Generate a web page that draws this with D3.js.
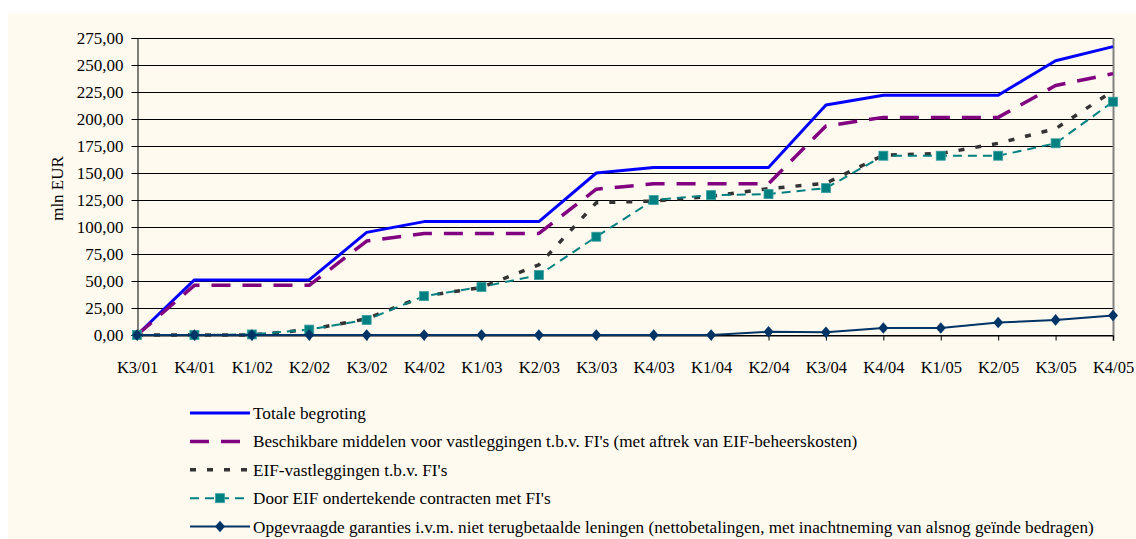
<!DOCTYPE html>
<html>
<head>
<meta charset="utf-8">
<script src="https://cdn.jsdelivr.net/npm/d3@7"></script>
<style>
  html, body { margin: 0; padding: 0; background: #ffffff; }
  svg { display: block; font-family: "Liberation Serif", "Times New Roman", serif; }
</style>
</head>
<body>
<svg id="chart" width="1136" height="539"></svg>
<script>
const categories = ['K3/01', 'K4/01', 'K1/02', 'K2/02', 'K3/02', 'K4/02', 'K1/03', 'K2/03', 'K3/03',
  'K4/03', 'K1/04', 'K2/04', 'K3/04', 'K4/04', 'K1/05', 'K2/05', 'K3/05', 'K4/05'];

const totaleBegroting = [0, 51, 51, 51, 95, 105, 105, 105, 150, 155, 155, 155, 213, 222, 222, 222, 254, 267];
const beschikbareMiddelen = [0, 46, 46, 46, 87, 94, 94, 94, 135, 140, 140, 140, 193.5, 201.5, 201.5, 201.5, 231, 242];
const eifVastleggingen = [0, 0, 0, 5, 15, 36, 44, 65, 122.5, 124, 128.5, 135.5, 140.5, 166.5, 168, 177.5, 191, 226];
const ondertekendeContracten = [0, 0, 0.5, 5, 14, 36, 44.5, 55.5, 91, 125, 129.5, 130.5, 136, 166, 166, 166, 177.5, 216];
const opgevraagdeGaranties = [0, 0, 0, 0, 0, 0, 0, 0, 0, 0, 0, 3, 2.5, 6.5, 6.5, 11.5, 14, 18];

const yTicks = [0, 25, 50, 75, 100, 125, 150, 175, 200, 225, 250, 275];

const seriesNames = [
  'Totale begroting',
  "Beschikbare middelen voor vastleggingen t.b.v. FI's (met aftrek van EIF-beheerskosten)",
  "EIF-vastleggingen t.b.v. FI's",
  "Door EIF ondertekende contracten met FI's",
  'Opgevraagde garanties i.v.m. niet terugbetaalde leningen (nettobetalingen, met inachtneming van alsnog geïnde bedragen)'
];

const series = [
  { name: seriesNames[0], values: totaleBegroting, color: '#0000ff', width: 3, dash: null, marker: null },
  { name: seriesNames[1], values: beschikbareMiddelen, color: '#800080', width: 3.5, dash: '19,12', marker: null },
  { name: seriesNames[2], values: eifVastleggingen, color: '#333333', width: 3.5, dash: '6,11', marker: null },
  { name: seriesNames[3], values: ondertekendeContracten, color: '#008080', width: 2, dash: '9,6', marker: 'square' },
  { name: seriesNames[4], values: opgevraagdeGaranties, color: '#003366', width: 2, dash: null, marker: 'diamond' }
];

const PLOT = { left: 137, right: 1113, top: 38, bottom: 335 };
const BG = '#fefaf0';
const FONT_SIZE = 17;

const nl = d3.formatLocale({ decimal: ',', thousands: '.', grouping: [3], currency: ['', ' €'] });
const fmt = nl.format('.2f');

const svg = d3.select('#chart');

// cream chart area
svg.append('rect')
  .attr('x', 8).attr('y', 13)
  .attr('width', 1136 - 8).attr('height', 539 - 13)
  .attr('fill', BG);

const x = d3.scalePoint().domain(categories).range([PLOT.left, PLOT.right]);
const y = d3.scaleLinear().domain([0, 275]).range([PLOT.bottom, PLOT.top]);

// gridlines
svg.append('g')
  .selectAll('line')
  .data(yTicks)
  .join('line')
  .attr('x1', PLOT.left).attr('x2', PLOT.right)
  .attr('y1', d => Math.round(y(d)) + 0.5).attr('y2', d => Math.round(y(d)) + 0.5)
  .attr('stroke', '#000').attr('stroke-width', 1);

// right border of plot area
svg.append('line')
  .attr('x1', PLOT.right + 0.5).attr('x2', PLOT.right + 0.5)
  .attr('y1', PLOT.top).attr('y2', PLOT.bottom + 6)
  .attr('stroke', '#808080').attr('stroke-width', 2);

// y axis
const yAxis = svg.append('g')
  .attr('transform', `translate(${PLOT.left + 0.5},0)`)
  .call(d3.axisLeft(y).tickValues(yTicks).tickFormat(fmt).tickSize(6).tickPadding(8));
yAxis.select('.domain').attr('stroke', '#000');
yAxis.selectAll('.tick line').attr('stroke', '#000');
yAxis.selectAll('text')
  .attr('fill', '#000')
  .style('font-size', FONT_SIZE + 'px')
  .style('font-family', '"Liberation Serif", "Times New Roman", serif');

// x axis
const xAxis = svg.append('g')
  .attr('transform', `translate(0,${PLOT.bottom + 0.5})`)
  .call(d3.axisBottom(x).tickSize(5).tickPadding(21).tickSizeOuter(0));
xAxis.select('.domain').attr('stroke', '#000');
xAxis.selectAll('.tick line').attr('stroke', '#000');
xAxis.selectAll('text')
  .attr('fill', '#000')
  .style('font-size', '16.5px')
  .style('font-family', '"Liberation Serif", "Times New Roman", serif');

// y title
svg.append('text')
  .attr('transform', `translate(63,${(PLOT.top + PLOT.bottom) / 2 + 2}) rotate(-90)`)
  .attr('text-anchor', 'middle')
  .style('font-size', FONT_SIZE + 'px')
  .text('mln EUR');

// lines
const line = d3.line()
  .x((d, i) => x(categories[i]))
  .y(d => y(d));

function drawMarker(sel, type, color, cx, cy) {
  if (type === 'square') {
    sel.append('rect')
      .attr('x', cx - 4.5).attr('y', cy - 4.5)
      .attr('width', 9).attr('height', 9)
      .attr('fill', color).attr('stroke', '#3a9f9f').attr('stroke-width', 0.8);
  } else if (type === 'diamond') {
    sel.append('path')
      .attr('d', d3.symbol(d3.symbolDiamond2, 70)())
      .attr('transform', `translate(${cx},${cy}) scale(0.95,1.1)`)
      .attr('fill', color);
  }
}

series.forEach(s => {
  const g = svg.append('g');
  g.append('path')
    .datum(s.values)
    .attr('d', line)
    .attr('fill', 'none')
    .attr('stroke', s.color)
    .attr('stroke-width', s.width)
    .attr('stroke-dasharray', s.dash)
    .attr('stroke-linejoin', 'round');
  if (s.marker) {
    s.values.forEach((v, i) => drawMarker(g, s.marker, s.color, x(categories[i]), y(v)));
  }
});

// legend
const legend = svg.append('g').attr('transform', 'translate(190,413)');
series.forEach((s, i) => {
  const row = legend.append('g').attr('transform', `translate(0,${i * 28.4})`);
  row.append('line')
    .attr('x1', 0).attr('x2', 60)
    .attr('y1', 0).attr('y2', 0)
    .attr('stroke', s.color)
    .attr('stroke-width', s.width)
    .attr('stroke-dasharray', s.dash);
  if (s.marker) drawMarker(row, s.marker, s.color, 30, 0);
  row.append('text')
    .attr('x', 63).attr('y', 6)
    .style('font-size', '17.2px')
    .text(s.name);
});
</script>
</body>
</html>
